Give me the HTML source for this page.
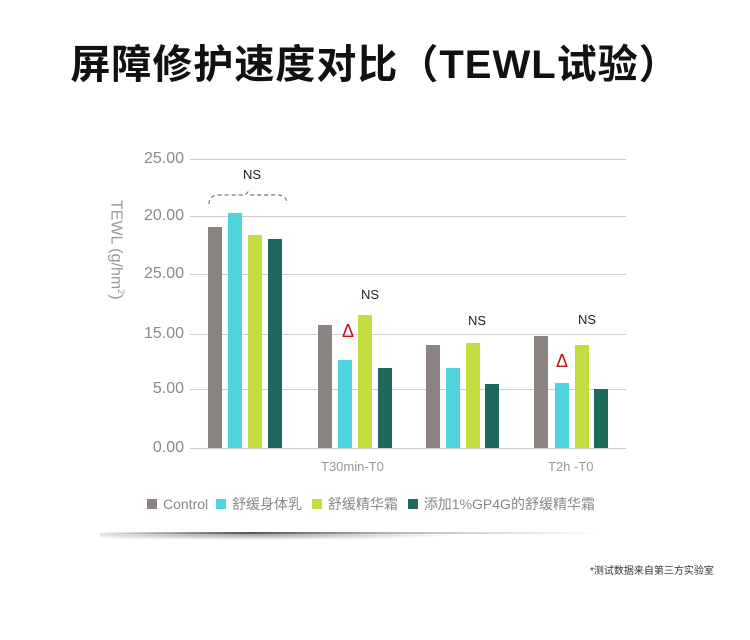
<!DOCTYPE html>
<html><head><meta charset="utf-8"><style>
body{margin:0;width:750px;height:640px;background:#fff;position:relative;overflow:hidden;font-family:"Liberation Sans","Noto Sans CJK SC",sans-serif}
.a{position:absolute}
.g{position:absolute;left:190px;width:436px;height:1px;background:#cfcfcf}
.t{position:absolute;left:120px;width:64px;text-align:right;font-size:16px;color:#8a8a8a}
.b{position:absolute;width:14px;bottom:192px}
.c1{background:#8a8382}.c2{background:#4fd5df}.c3{background:#c3dd40}.c4{background:#1e685d}
.ns{position:absolute;font-size:13px;color:#222}
.tri{position:absolute;color:#c0101a;font-size:18px}
</style></head><body>
<div class="a" style="left:0;top:32px;width:750px;text-align:center;font-size:40px;color:#111;font-weight:bold;letter-spacing:1px">屏障修护速度对比（TEWL试验）</div>
<div class="g" style="top:159px"></div><div class="g" style="top:216px"></div><div class="g" style="top:274px"></div><div class="g" style="top:334px"></div><div class="g" style="top:389px"></div><div class="g" style="top:448px"></div>
<div class="t" style="top:150px">25.00</div><div class="t" style="top:207px">20.00</div><div class="t" style="top:265px">25.00</div><div class="t" style="top:325px">15.00</div><div class="t" style="top:380px">5.00</div><div class="t" style="top:439px">0.00</div>
<div class="a" style="left:126px;top:200px;transform:rotate(90deg);transform-origin:left top;font-size:16px;color:#999;white-space:nowrap">TEWL (g/hm<sup style="font-size:9px">2</sup>)</div>
<div class="b c1" style="left:208px;height:221px"></div><div class="b c2" style="left:228px;height:235px"></div><div class="b c3" style="left:248px;height:213px"></div><div class="b c4" style="left:268px;height:209px"></div>
<div class="b c1" style="left:318px;height:123px"></div><div class="b c2" style="left:338px;height:88px"></div><div class="b c3" style="left:358px;height:133px"></div><div class="b c4" style="left:378px;height:80px"></div>
<div class="b c1" style="left:426px;height:103px"></div><div class="b c2" style="left:446px;height:80px"></div><div class="b c3" style="left:466px;height:105px"></div><div class="b c4" style="left:485px;height:64px"></div>
<div class="b c1" style="left:534px;height:112px"></div><div class="b c2" style="left:555px;height:65px"></div><div class="b c3" style="left:575px;height:103px"></div><div class="b c4" style="left:594px;height:59px"></div>
<svg class="a" style="left:205px;top:188px" width="85" height="20"><path d="M4 16 Q4 7 14 7 L40 7 L43 4 L46 7 L72 7 Q82 7 82 16" fill="none" stroke="#777" stroke-dasharray="4,3" stroke-width="1.2"/></svg>
<div class="ns" style="left:243px;top:167px">NS</div>
<div class="ns" style="left:361px;top:287px">NS</div>
<div class="ns" style="left:468px;top:313px">NS</div>
<div class="ns" style="left:578px;top:312px">NS</div>
<div class="tri" style="left:342px;top:321px">Δ</div>
<div class="tri" style="left:556px;top:351px">Δ</div>
<div class="a" style="left:321px;top:459px;font-size:13px;color:#999">T30min-T0</div>
<div class="a" style="left:548px;top:459px;font-size:13px;color:#999">T2h -T0</div>
<div class="a" style="left:137px;top:494px;font-size:14px;color:#888;white-space:nowrap">
<span style="display:inline-block;width:10px;height:10px;background:#8a8382;margin:0 6px 0 10px"></span>Control
<span style="display:inline-block;width:10px;height:10px;background:#4fd5df;margin:0 6px 0 4px"></span>舒缓身体乳
<span style="display:inline-block;width:10px;height:10px;background:#c3dd40;margin:0 6px 0 6px"></span>舒缓精华霜
<span style="display:inline-block;width:10px;height:10px;background:#1e685d;margin:0 6px 0 6px"></span>添加1%GP4G的舒缓精华霜</div>
<div class="a" style="left:100px;top:533px;width:500px;height:16px;background:radial-gradient(ellipse 60% 50% at 30% 10%,rgba(0,0,0,.35),rgba(0,0,0,0) 70%)"></div>
<div class="a" style="left:100px;top:532px;width:500px;height:2px;background:linear-gradient(90deg,rgba(0,0,0,0),#555 30%,#bbb 60%,rgba(0,0,0,0))"></div>
<div class="a" style="left:590px;top:562px;font-size:10px;color:#333">*测试数据来自第三方实验室</div>
</body></html>
